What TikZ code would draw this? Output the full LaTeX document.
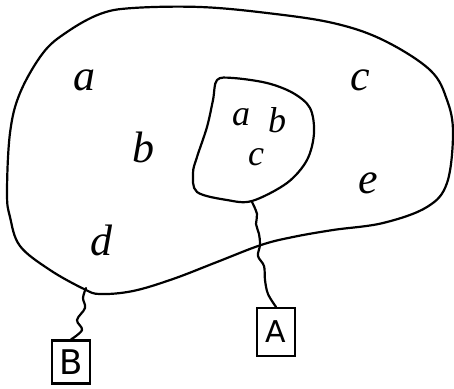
\documentclass[tikz,border=0pt]{standalone}
\usepackage{fontspec}
\setsansfont{DejaVu Sans}
\newfontfamily\handfont{Liberation Serif}
\tikzset{
  ink/.style={line width=2.2pt, line join=round, line cap=round, black},
  lbl/.style={inner sep=0pt, font=\handfont\itshape\fontsize{44}{44}\selectfont},
  slbl/.style={inner sep=0pt, font=\handfont\itshape\fontsize{36}{36}\selectfont},
  boxnode/.style={draw, line width=2.2pt, inner sep=0pt, minimum width=38pt, minimum height=48pt, font=\fontsize{30}{30}\selectfont\sffamily}
}
\begin{document}
\begin{tikzpicture}[x=1pt,y=-1pt]
\useasboundingbox (0,0) rectangle (454,388);
% outer blob
\draw[ink] plot[smooth cycle, tension=0.6] coordinates {
 (43,53) (67,32) (100,14) (133,8) (200,7) (267,13) (333,23) (383,40)
 (430,70) (447,100) (453,133) (447,183) (427,207) (383,223) (333,230)
 (293,237) (261,245) (217,262) (173,279) (133,291) (100,294) (84,289)
 (50,270) (20,246) (10,217) (7,193) (10,133) (20,93)};
% inner blob
\draw[ink] plot[smooth cycle, tension=0.55] coordinates {
 (217,80) (233,78) (267,83) (293,93) (310,108) (314,133) (307,160)
 (287,183) (252,201) (227,200) (197,192) (193,173) (197,157) (207,127) (213,100)};
\coordinate (ib) at (252,202);
\coordinate (ob) at (86,288);
% boxes
\node[boxnode] (A) at (276,332) {A};
\node[boxnode, minimum height=43pt, font=\fontsize{34}{34}\selectfont\sffamily] (B) at (71,362) {B};
% wiggly connectors
\draw[ink] plot[smooth, tension=0.6] coordinates {
 (ib) (257,214) (256,224) (259,234) (260,245) (258,256) (264,266) (265,280) (268,294) (A.north)};
\draw[ink] plot[smooth, tension=0.6] coordinates {
 (ob) (83,298) (85,308) (77,320) (82,330) (B.north)};
% labels
\node[lbl] (la) at (84,80) {a};
\node[lbl] (lb) at (143,147) {b};
\node[lbl] (lc) at (360,80) {c};
\node[lbl] (ld) at (101,240) {d};
\node[lbl] (le) at (368,183) {e};
\node[slbl] (ia) at (241,117) {a};
\node[slbl] (ibb) at (277,120) {b};
\node[slbl] (ic) at (256,157) {c};
\end{tikzpicture}
\end{document}
